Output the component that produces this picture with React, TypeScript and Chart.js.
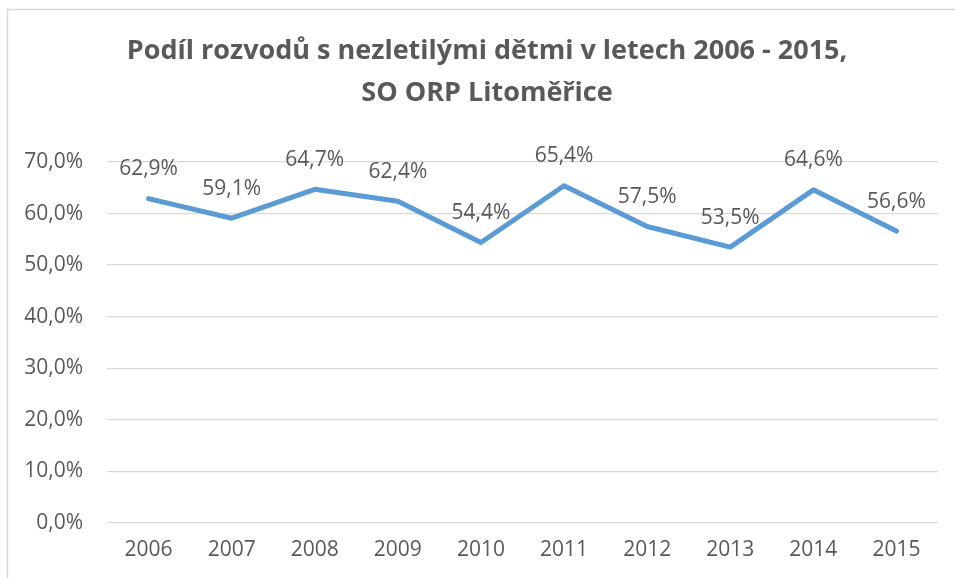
import React, { useEffect, useRef } from "react";
import { Chart, registerables } from "chart.js";

Chart.register(...registerables);

const categories = ["2006", "2007", "2008", "2009", "2010", "2011", "2012", "2013", "2014", "2015"];
const shareValues = [62.9, 59.1, 64.7, 62.4, 54.4, 65.4, 57.5, 53.5, 64.6, 56.6];
const titleLines = ["Podíl rozvodů s nezletilými dětmi v letech 2006 - 2015,", "SO ORP Litoměřice"];
const yMin = 0;
const yMax = 70;
const yStep = 10;

const FONT = "'Open Sans', 'Noto Sans', sans-serif";
const TEXT_COLOR = "#595959";

const fmt = (v: number) => v.toFixed(1).replace(".", ",") + "%";

const decorPlugin = {
  id: "decor",
  beforeDraw(chart: any) {
    const ctx = chart.ctx;
    ctx.save();
    ctx.fillStyle = "#ffffff";
    ctx.fillRect(0, 0, chart.width, chart.height);
    ctx.strokeStyle = "#D9D9D9";
    ctx.lineWidth = 1.5;
    ctx.strokeRect(7.5, 9.5, chart.width + 20, chart.height + 20);
    ctx.fillStyle = TEXT_COLOR;
    ctx.font = `bold 27px ${FONT}`;
    ctx.textAlign = "center";
    ctx.textBaseline = "alphabetic";
    ctx.fillText(titleLines[0], 487, 59);
    ctx.fillText(titleLines[1], 487, 101);
    ctx.restore();
  },
  afterDatasetsDraw(chart: any) {
    const ctx = chart.ctx;
    const meta = chart.getDatasetMeta(0);
    const data = chart.data.datasets[0].data as number[];
    ctx.save();
    ctx.fillStyle = TEXT_COLOR;
    ctx.font = `21px ${FONT}`;
    ctx.textAlign = "center";
    ctx.textBaseline = "alphabetic";
    meta.data.forEach((pt: any, i: number) => {
      ctx.fillText(fmt(data[i]), pt.x, pt.y - 23.5);
    });
    ctx.restore();
  },
};

export default function App() {
  const ref = useRef<HTMLCanvasElement>(null);
  useEffect(() => {
    document.body.style.margin = "0";
    const chart = new Chart(ref.current!, {
      type: "line",
      data: {
        labels: categories,
        datasets: [
          {
            data: shareValues,
            borderColor: "#5B9BD5",
            borderWidth: 5,
            pointRadius: 0,
            tension: 0,
            fill: false,
            borderCapStyle: "round",
            borderJoinStyle: "round",
          },
        ],
      },
      options: {
        animation: false,
        responsive: false,
        layout: { padding: { top: 162, right: 17, bottom: 0, left: 0 } },
        plugins: { legend: { display: false }, title: { display: false }, tooltip: { enabled: false } },
        scales: {
          x: {
            offset: true,
            grid: { display: false, drawTicks: false },
            border: { display: false },
            ticks: { color: TEXT_COLOR, font: { family: FONT, size: 21 }, padding: 14, maxRotation: 0 },
            afterFit: (s: any) => {
              s.height = 55;
            },
          },
          y: {
            min: yMin,
            max: yMax,
            grid: { color: "#D9D9D9", lineWidth: 1.3, drawTicks: false },
            border: { display: false },
            ticks: {
              stepSize: yStep,
              color: TEXT_COLOR,
              font: { family: FONT, size: 21 },
              padding: 24,
              callback: (v: any) => fmt(Number(v)),
            },
            afterFit: (s: any) => {
              s.width = 107;
            },
          },
        },
      },
      plugins: [decorPlugin],
    });
    return () => chart.destroy();
  }, []);
  return (
    <div style={{ position: "absolute", left: 0, top: 0, width: 955, height: 578 }}>
      <canvas ref={ref} width={955} height={578} />
    </div>
  );
}
